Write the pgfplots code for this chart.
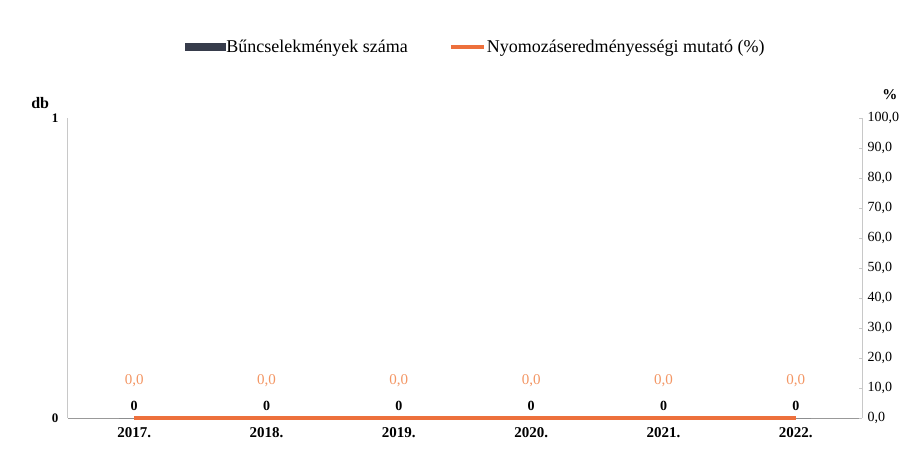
\documentclass[border=0pt]{standalone}
\usepackage{pgfplots}
\pgfplotsset{compat=1.18}
\usepackage{fontspec}
\setmainfont{Liberation Serif}
\definecolor{narancs}{RGB}{237,112,60}
\definecolor{narancsfelirat}{RGB}{243,150,100}
\definecolor{sotet}{RGB}{55,60,75}
\definecolor{tengely}{RGB}{200,200,200}
\begin{document}
\begin{tikzpicture}
\pgfplotsset{
  kozos/.style={
    scale only axis, width=794pt, height=300pt,
    xmin=-0.5, xmax=5.5, clip=false,
    /pgf/number format/assume math mode=true,
  }
}
% bal tengely: db
\begin{axis}[
  kozos,
  ymin=0, ymax=1, ytick={0,1},
  axis x line*=bottom, axis y line*=left,
  x axis line style={-, draw=gray!80, line width=1pt},
  y axis line style={-, draw=tengely, line width=1pt},
  xtick={0,1,2,3,4,5},
  xticklabels={2017.,2018.,2019.,2020.,2021.,2022.},
  major tick length=0pt,
  x tick label style={font=\fontsize{15}{17}\selectfont\bfseries, yshift=-6pt},
  y tick label style={font=\fontsize{13}{15}\selectfont\bfseries, xshift=-6pt},
  /pgf/number format/.cd, fixed, precision=0,
]
\addplot[ybar, bar width=30pt, draw=none, fill=sotet,
  nodes near coords,
  every node near coord/.append style={font=\fontsize{14}{16}\selectfont\bfseries, text=black, yshift=4pt}]
  coordinates {(0,0) (1,0) (2,0) (3,0) (4,0) (5,0)};
\node[font=\fontsize{16}{18}\selectfont\bfseries] at (rel axis cs:-0.035,1.05) {db};
\node[font=\fontsize{15}{17}\selectfont\bfseries] at (rel axis cs:1.035,1.077) {\%};
\end{axis}
% jobb tengely: %
\begin{axis}[
  kozos,
  ymin=0, ymax=100, ytick={0,10,...,100},
  axis x line=none, axis y line*=right,
  y axis line style={-, draw=tengely, line width=1pt},
  ytick style={draw=tengely},
  major tick length=3pt,
  y tick label style={font=\fontsize{14}{16}\selectfont, xshift=2pt},
  /pgf/number format/.cd, fixed, fixed zerofill, precision=1, use comma,
  /tikz/.cd,
  legend style={at={(0.513,1.237)}, anchor=center, draw=none,
    font=\fontsize{18}{21}\selectfont, legend columns=2,
    nodes={inner xsep=1pt},
    /tikz/every even column/.append style={column sep=40pt}},
  legend cell align=left,
]
\addlegendimage{legend image code/.code={\fill[sotet] (0pt,-3.5pt) rectangle (40pt,3.5pt);}}
\addlegendentry{Bűncselekmények száma}
\addplot[narancs, line width=4pt, mark=none,
  legend image code/.code={\draw[narancs, line width=4pt] (0pt,0pt) -- (33pt,0pt);},
  nodes near coords,
  every node near coord/.append style={font=\fontsize{15}{17}\selectfont, text=narancsfelirat, yshift=26pt}]
  coordinates {(0,0) (1,0) (2,0) (3,0) (4,0) (5,0)};
\addlegendentry{Nyomozáseredményességi mutató (\%)}
\end{axis}
\pgfresetboundingbox
\path[use as bounding box] (-68pt,-49pt) rectangle (852pt,418pt);
\end{tikzpicture}
\end{document}
